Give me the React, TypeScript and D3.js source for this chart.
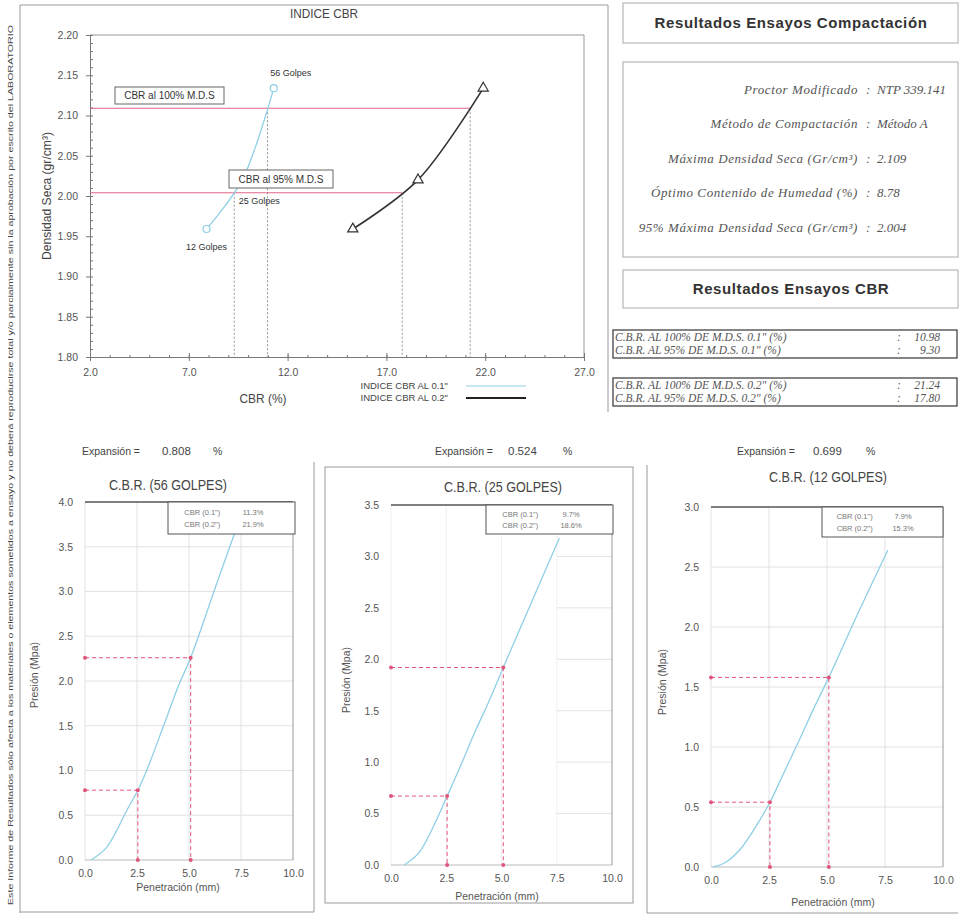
import React, { useRef, useEffect } from 'react';
import * as d3 from 'd3';

// ---- Indice CBR (grafico superior) ----
const golpes = ['56 Golpes', '25 Golpes', '12 Golpes'];
const densidadSeca = [2.134, 2.02, 1.959];
const cbr01 = [11.3, 9.7, 7.9];
const cbr02 = [21.9, 18.6, 15.3];
const mds = 2.109;
const mds95 = 2.004;
const cbr100at01 = 10.98;
const cbr95at01 = 9.3;
const cbr100at02 = 21.24;
const cbr95at02 = 17.8;
const densTicks = [1.8, 1.85, 1.9, 1.95, 2.0, 2.05, 2.1, 2.15, 2.2];
const cbrTicks = [2, 7, 12, 17, 22, 27];
const legendNames = ['INDICE CBR AL 0.1"', 'INDICE CBR AL 0.2"'];

// ---- tablas ----
const compLabels = [
  'Proctor Modificado',
  'Método de Compactación',
  'Máxima Densidad Seca (Gr/cm³)',
  'Óptimo Contenido de Humedad (%)',
  '95% Máxima Densidad Seca (Gr/cm³)',
];
const compValues = ['NTP 339.141', 'Método A', '2.109', '8.78', '2.004'];
const cbrLabels01 = ['C.B.R. AL 100% DE M.D.S. 0.1" (%)', 'C.B.R. AL 95% DE M.D.S. 0.1" (%)'];
const cbrValues01 = ['10.98', '9.30'];
const cbrLabels02 = ['C.B.R. AL 100% DE M.D.S. 0.2" (%)', 'C.B.R. AL 95% DE M.D.S. 0.2" (%)'];
const cbrValues02 = ['21.24', '17.80'];

// ---- curvas presion - penetracion ----
const titulos = ['C.B.R. (56 GOLPES)', 'C.B.R. (25 GOLPES)', 'C.B.R. (12 GOLPES)'];
const expansion = ['0.808', '0.524', '0.699'];
const presionMax = [4.0, 3.5, 3.0];
const penTicks = [0, 2.5, 5, 7.5, 10];
const penetracion56 = [0.3, 1.0, 1.5, 2.0, 2.54, 3.0, 3.81, 4.5, 5.08, 6.35, 7.3];
const presion56 = [0, 0.13, 0.32, 0.55, 0.78, 1.02, 1.52, 1.95, 2.26, 3.1, 3.72];
const penetracion25 = [0.6, 1.27, 1.91, 2.54, 3.18, 3.81, 4.45, 5.08, 6.35, 7.62];
const presion25 = [0, 0.12, 0.37, 0.67, 0.98, 1.3, 1.6, 1.92, 2.55, 3.18];
const penetracion12 = [0.1, 0.64, 1.27, 1.91, 2.54, 3.18, 3.81, 4.45, 5.08, 6.35, 7.62];
const presion12 = [0, 0.04, 0.15, 0.33, 0.54, 0.8, 1.06, 1.33, 1.58, 2.12, 2.64];
const penCorregida = [2.54, 5.08];
const presionCorregida = [[0.78, 2.26], [0.67, 1.92], [0.54, 1.58]];
const cbrLeyenda = [['11.3%', '21.9%'], ['9.7%', '18.6%'], ['7.9%', '15.3%']];

const SANS = "'Liberation Sans', Arial, sans-serif";
const SERIF = "'Liberation Serif', 'Times New Roman', serif";
const BLUE = '#8fcfe6';
const RED = '#e0557c';

function App() {
  const ref = useRef<SVGSVGElement>(null);

  useEffect(() => {
    const svg = d3.select(ref.current);
    svg.selectAll('*').remove();
    svg.append('rect').attr('width', 960).attr('height', 923).attr('fill', '#fff');

    // nota vertical
    svg.append('text')
      .attr('transform', 'translate(11,465) rotate(-90)')
      .attr('text-anchor', 'middle')
      .attr('dominant-baseline', 'middle')
      .attr('font-family', SANS)
      .attr('font-size', 8)
      .attr('fill', '#444')
      .attr('textLength', 880)
      .attr('lengthAdjust', 'spacingAndGlyphs')
      .text('Este Informe de Resultados sólo afecta a los materiales o elementos sometidos a ensayo y no deberá reproducirse total y/o parcialmente sin la aprobación por escrito del LABORATORIO');

    const frame = svg.append('g').attr('stroke', '#999').attr('fill', 'none');
    frame.append('line').attr('x1', 20).attr('x2', 20).attr('y1', 5).attr('y2', 913);
    frame.append('line').attr('x1', 20).attr('x2', 608).attr('y1', 5).attr('y2', 5);
    frame.append('line').attr('x1', 608).attr('x2', 608).attr('y1', 5).attr('y2', 412);

    // ================= INDICE CBR =================
    const x = d3.scaleLinear().domain([2, 27]).range([90, 584]);
    const y = d3.scaleLinear().domain([1.8, 2.2]).range([357, 35]);
    const top = svg.append('g');

    top.append('text').attr('x', 324).attr('y', 15).attr('text-anchor', 'middle')
      .attr('dominant-baseline', 'middle').attr('font-family', SANS).attr('font-size', 13)
      .attr('textLength', 68).attr('lengthAdjust', 'spacingAndGlyphs')
      .attr('fill', '#444').text('INDICE CBR');

    top.append('line').attr('x1', 90).attr('x2', 584).attr('y1', 35).attr('y2', 35).attr('stroke', '#999');
    top.append('line').attr('x1', 584).attr('x2', 584).attr('y1', 35).attr('y2', 357).attr('stroke', '#999');

    const yMinor = d3.range(1.8, 2.2001, 0.01);
    top.append('g').attr('transform', 'translate(90,0)')
      .call(d3.axisRight(y).tickValues(yMinor).tickSize(3).tickFormat(() => ''));
    top.append('g').attr('transform', 'translate(90,0)')
      .call(d3.axisLeft(y).tickValues(densTicks).tickSize(4).tickPadding(8).tickFormat(d3.format('.2f')));
    const xMinor = d3.range(2, 27.001, 1);
    top.append('g').attr('transform', 'translate(0,357)')
      .call(d3.axisTop(x).tickValues(xMinor).tickSize(2).tickFormat(() => ''));
    top.append('g').attr('transform', 'translate(0,357)')
      .call(d3.axisBottom(x).tickValues(cbrTicks).tickSize(4).tickPadding(8).tickFormat(d3.format('.1f')));
    top.append('g').attr('transform', 'translate(0,357)')
      .call(d3.axisTop(x).tickValues(cbrTicks).tickSize(4).tickFormat(() => ''));
    top.selectAll('.domain').attr('stroke', '#777');
    top.selectAll('.tick line').attr('stroke', '#777');
    top.selectAll('.tick text').attr('font-family', SANS).attr('font-size', 10.5).attr('fill', '#555');

    top.append('text').attr('transform', `translate(48,${(35 + 357) / 2}) rotate(-90)`)
      .attr('text-anchor', 'middle').attr('dominant-baseline', 'middle')
      .attr('font-family', SANS).attr('font-size', 13).attr('fill', '#444')
      .attr('textLength', 128).attr('lengthAdjust', 'spacingAndGlyphs')
      .text('Densidad Seca (gr/cm³)');
    top.append('text').attr('x', 263).attr('y', 400).attr('text-anchor', 'middle')
      .attr('dominant-baseline', 'middle').attr('font-family', SANS).attr('font-size', 13)
      .attr('textLength', 47).attr('lengthAdjust', 'spacingAndGlyphs')
      .attr('fill', '#444').text('CBR  (%)');

    // lineas de lectura
    const lect = [
      { d: mds, c1: cbr100at01, c2: cbr100at02 },
      { d: mds95, c1: cbr95at01, c2: cbr95at02 },
    ];
    lect.forEach(l => {
      top.append('line').attr('x1', x(2)).attr('x2', x(l.c2)).attr('y1', y(l.d)).attr('y2', y(l.d))
        .attr('stroke', RED).attr('stroke-width', 0.9);
      [l.c1, l.c2].forEach(c => {
        top.append('line').attr('x1', x(c)).attr('x2', x(c)).attr('y1', y(l.d)).attr('y2', y(1.8))
          .attr('stroke', '#888').attr('stroke-dasharray', '2,2').attr('stroke-width', 0.9);
      });
    });

    const pts01 = cbr01.map((c, i) => [x(c), y(densidadSeca[i])] as [number, number]).reverse();
    const pts02 = cbr02.map((c, i) => [x(c), y(densidadSeca[i])] as [number, number]).reverse();
    top.append('path').attr('d', d3.line().curve(d3.curveCatmullRom)(pts01)).attr('fill', 'none')
      .attr('stroke', BLUE).attr('stroke-width', 1.3);
    top.append('path').attr('d', d3.line().curve(d3.curveCatmullRom)(pts02)).attr('fill', 'none')
      .attr('stroke', '#333').attr('stroke-width', 1.6);
    top.selectAll('.c01').data(pts01).enter().append('circle').attr('cx', d => d[0]).attr('cy', d => d[1])
      .attr('r', 3.5).attr('fill', '#fff').attr('stroke', BLUE).attr('stroke-width', 1.2);
    const tri = d3.symbol().type(d3.symbolTriangle).size(45);
    top.selectAll('.t02').data(pts02).enter().append('path')
      .attr('transform', d => `translate(${d[0]},${d[1]})`).attr('d', tri())
      .attr('fill', '#fff').attr('stroke', '#333').attr('stroke-width', 1.2);

    const note = (t: string, cx: number, cy: number) =>
      top.append('text').attr('x', cx).attr('y', cy).attr('text-anchor', 'middle')
        .attr('dominant-baseline', 'middle').attr('font-family', SANS).attr('font-size', 9)
        .attr('fill', '#333').text(t);
    note(golpes[0], x(cbr01[0]) + 17, y(densidadSeca[0]) - 15);
    note(golpes[1], x(cbr01[1]) + 17, y(densidadSeca[1]) + 22);
    note(golpes[2], x(cbr01[2]) + 0, y(densidadSeca[2]) + 19);

    const boxNote = (t: string, x0: number, y0: number, w: number, h: number) => {
      top.append('rect').attr('x', x0).attr('y', y0).attr('width', w).attr('height', h)
        .attr('fill', '#fff').attr('stroke', '#666');
      top.append('text').attr('x', x0 + w / 2).attr('y', y0 + h / 2 + 1).attr('text-anchor', 'middle')
        .attr('dominant-baseline', 'middle').attr('font-family', SANS).attr('font-size', 10)
        .attr('fill', '#333').text(t);
    };
    boxNote('CBR al 100% M.D.S', 115, 87, 109, 17);
    boxNote('CBR al 95% M.D.S', 229, 170, 104, 18);

    // leyenda
    legendNames.forEach((n, i) => {
      const ly = 386 + i * 12;
      top.append('text').attr('x', 448).attr('y', ly).attr('text-anchor', 'end')
        .attr('dominant-baseline', 'middle').attr('font-family', SANS).attr('font-size', 9.5)
        .attr('fill', '#444').text(n);
      top.append('line').attr('x1', 466).attr('x2', 526).attr('y1', ly).attr('y2', ly)
        .attr('stroke', i === 0 ? BLUE : '#222').attr('stroke-width', i === 0 ? 1.2 : 2);
    });

    // ================= TABLAS =================
    const tb = svg.append('g');
    const header = (t: string, y0: number, h: number) => {
      tb.append('rect').attr('x', 623).attr('y', y0).attr('width', 335).attr('height', h)
        .attr('fill', '#fff').attr('stroke', '#aaa');
      tb.append('text').attr('x', 791).attr('y', y0 + h / 2 + 1).attr('text-anchor', 'middle')
        .attr('dominant-baseline', 'middle').attr('font-family', SANS)
        .attr('font-weight', 'bold').attr('font-size', 15).attr('letter-spacing', 0.6)
        .attr('fill', '#333').text(t);
    };
    header('Resultados Ensayos Compactación', 3, 40);
    tb.append('rect').attr('x', 623).attr('y', 62).attr('width', 335).attr('height', 195)
      .attr('fill', '#fff').attr('stroke', '#aaa');
    const rowY = d3.scalePoint<number>().domain(d3.range(compLabels.length)).range([91, 229]);
    compLabels.forEach((l, i) => {
      const g = tb.append('g').attr('font-family', SERIF).attr('font-style', 'italic')
        .attr('font-size', 13).attr('fill', '#555');
      g.append('text').attr('x', 858).attr('y', rowY(i)!).attr('text-anchor', 'end')
        .attr('letter-spacing', 0.6).attr('dominant-baseline', 'middle').text(l);
      g.append('text').attr('x', 866).attr('y', rowY(i)!).attr('dominant-baseline', 'middle').text(':');
      g.append('text').attr('x', 877).attr('y', rowY(i)!).attr('dominant-baseline', 'middle').text(compValues[i]);
    });
    header('Resultados Ensayos CBR', 270, 38);

    const cbrBox = (labels: string[], values: string[], y0: number) => {
      tb.append('rect').attr('x', 613).attr('y', y0).attr('width', 344).attr('height', 28)
        .attr('fill', '#fff').attr('stroke', '#444').attr('stroke-width', 1.3);
      labels.forEach((l, i) => {
        const yy = y0 + 8 + i * 13;
        const g = tb.append('g').attr('font-family', SERIF).attr('font-style', 'italic')
          .attr('font-size', 11.5).attr('fill', '#555');
        g.append('text').attr('x', 615).attr('y', yy).attr('dominant-baseline', 'middle').text(l);
        g.append('text').attr('x', 897).attr('y', yy).attr('dominant-baseline', 'middle').text(':');
        g.append('text').attr('x', 940).attr('y', yy).attr('text-anchor', 'end')
          .attr('dominant-baseline', 'middle').text(values[i]);
      });
    };
    cbrBox(cbrLabels01, cbrValues01, 330);
    cbrBox(cbrLabels02, cbrValues02, 378);

    // ================= PRESION - PENETRACION =================
    const series = [
      { pen: penetracion56, pre: presion56 },
      { pen: penetracion25, pre: presion25 },
      { pen: penetracion12, pre: presion12 },
    ];
    const layout = [
      { l: 85, r: 293, t: 502, b: 860, exp: [82, 162, 213], title: [168, 486], ylab: [35, 675], xlab: [178, 888], leg: [168, 127, 32], gridFrom: 0 },
      { l: 391, r: 612, t: 505, b: 865, exp: [435, 508, 563], title: [503, 488], ylab: [347, 680], xlab: [497, 897], leg: [486, 127, 29], gridFrom: 7.5 },
      { l: 711, r: 943, t: 507, b: 867, exp: [737, 813, 866], title: [828, 478], ylab: [663, 682], xlab: [833, 903], leg: [822, 121, 30], gridFrom: 0 },
    ];

    // marcos inferiores
    frame.append('line').attr('x1', 20).attr('x2', 314).attr('y1', 912).attr('y2', 912);
    frame.append('line').attr('x1', 314).attr('x2', 314).attr('y1', 462).attr('y2', 912);
    frame.append('rect').attr('x', 325).attr('y', 467).attr('width', 308).attr('height', 436);
    frame.append('line').attr('x1', 647).attr('x2', 647).attr('y1', 465).attr('y2', 913);
    frame.append('line').attr('x1', 647).attr('x2', 958).attr('y1', 913).attr('y2', 913);

    series.forEach((s, k) => {
      const L = layout[k];
      const g = svg.append('g');
      const px = d3.scaleLinear().domain([0, 10]).range([L.l, L.r]);
      const py = d3.scaleLinear().domain([0, presionMax[k]]).range([L.b, L.t]);
      const yTicks = d3.range(0, presionMax[k] + 0.001, 0.5);

      // expansion y titulo
      const txt = (t: string, xx: number, yy: number, size: number, anchor = 'start') =>
        g.append('text').attr('x', xx).attr('y', yy).attr('text-anchor', anchor)
          .attr('dominant-baseline', 'middle').attr('font-family', SANS).attr('font-size', size)
          .attr('fill', '#444').text(t);
      txt('Expansión =', L.exp[0], 452, 11.5).attr('textLength', 58).attr('lengthAdjust', 'spacingAndGlyphs');
      txt(expansion[k], L.exp[1], 452, 11.5);
      txt('%', L.exp[2], 452, 10.5);
      txt(titulos[k], L.title[0], L.title[1], 14.5, 'middle')
        .attr('textLength', 118).attr('lengthAdjust', 'spacingAndGlyphs');

      // grilla
      g.append('g').selectAll('line').data(yTicks.slice(1, -1)).enter().append('line')
        .attr('x1', px(L.gridFrom)).attr('x2', px(10)).attr('y1', d => py(d)).attr('y2', d => py(d))
        .attr('stroke', '#e2e2e2');
      g.append('g').selectAll('line').data(penTicks.slice(0, -1)).enter().append('line')
        .attr('x1', d => px(d)).attr('x2', d => px(d)).attr('y1', py(0)).attr('y2', py(presionMax[k]))
        .attr('stroke', k === 1 ? '#f0f0f0' : '#e2e2e2');
      g.append('line').attr('x1', px(0)).attr('x2', px(10)).attr('y1', py(0)).attr('y2', py(0)).attr('stroke', '#bbb');
      g.append('line').attr('x1', px(10)).attr('x2', px(10)).attr('y1', py(0)).attr('y2', py(presionMax[k])).attr('stroke', '#999');
      g.append('line').attr('x1', px(0)).attr('x2', px(10)).attr('y1', py(presionMax[k])).attr('y2', py(presionMax[k]))
        .attr('stroke', '#555').attr('stroke-width', 1.3);

      // ejes
      const ax = g.append('g').attr('transform', `translate(0,${L.b})`)
        .call(d3.axisBottom(px).tickValues(penTicks).tickSize(0).tickPadding(10).tickFormat(d3.format('.1f')));
      const ay = g.append('g').attr('transform', `translate(${L.l},0)`)
        .call(d3.axisLeft(py).tickValues(yTicks).tickSize(0).tickPadding(12).tickFormat(d3.format('.1f')));
      [ax, ay].forEach(a => {
        a.select('.domain').remove();
        a.selectAll('text').attr('font-family', SANS).attr('font-size', 10.5).attr('fill', '#555');
      });
      g.append('text').attr('transform', `translate(${L.ylab[0]},${L.ylab[1]}) rotate(-90)`)
        .attr('text-anchor', 'middle').attr('dominant-baseline', 'middle').attr('font-family', SANS)
        .attr('font-size', 10.5).attr('fill', '#555').text('Presión (Mpa)');
      txt('Penetración (mm)', L.xlab[0], L.xlab[1], 10.5, 'middle').attr('fill', '#555');

      // curva
      const pts = s.pen.map((p, i) => [px(p), py(s.pre[i])] as [number, number]);
      g.append('path').attr('d', d3.line().curve(d3.curveCatmullRom)(pts)).attr('fill', 'none')
        .attr('stroke', BLUE).attr('stroke-width', 1.3);

      // lecturas corregidas
      penCorregida.forEach((p, j) => {
        const v = presionCorregida[k][j];
        const path = [[px(0), py(v)], [px(p), py(v)], [px(p), py(0)]] as [number, number][];
        g.append('path').attr('d', d3.line()(path)).attr('fill', 'none').attr('stroke', RED)
          .attr('stroke-width', 1).attr('stroke-dasharray', '4,3');
        g.selectAll(null).data(path).enter().append('circle').attr('cx', d => d[0]).attr('cy', d => d[1])
          .attr('r', 2).attr('fill', RED);
      });

      // leyenda CBR
      const [lx, lw, lh] = L.leg;
      const ly = py(presionMax[k]);
      g.append('rect').attr('x', lx).attr('y', ly).attr('width', lw).attr('height', lh)
        .attr('fill', '#fff').attr('stroke', '#555');
      ['CBR (0.1")', 'CBR (0.2")'].forEach((n, j) => {
        const yy = ly + lh * (j === 0 ? 0.33 : 0.72);
        g.append('text').attr('x', lx + lw * 0.27).attr('y', yy).attr('text-anchor', 'middle')
          .attr('dominant-baseline', 'middle').attr('font-family', SANS).attr('font-size', 7.5)
          .attr('fill', '#777').text(n);
        g.append('text').attr('x', lx + lw * 0.67).attr('y', yy).attr('text-anchor', 'middle')
          .attr('dominant-baseline', 'middle').attr('font-family', SANS).attr('font-size', 7.5)
          .attr('fill', '#777').text(cbrLeyenda[k][j]);
      });
    });
  }, []);

  return (
    <svg ref={ref} width={960} height={923} style={{ position: 'absolute', left: 0, top: 0 }} />
  );
}

export default App;
